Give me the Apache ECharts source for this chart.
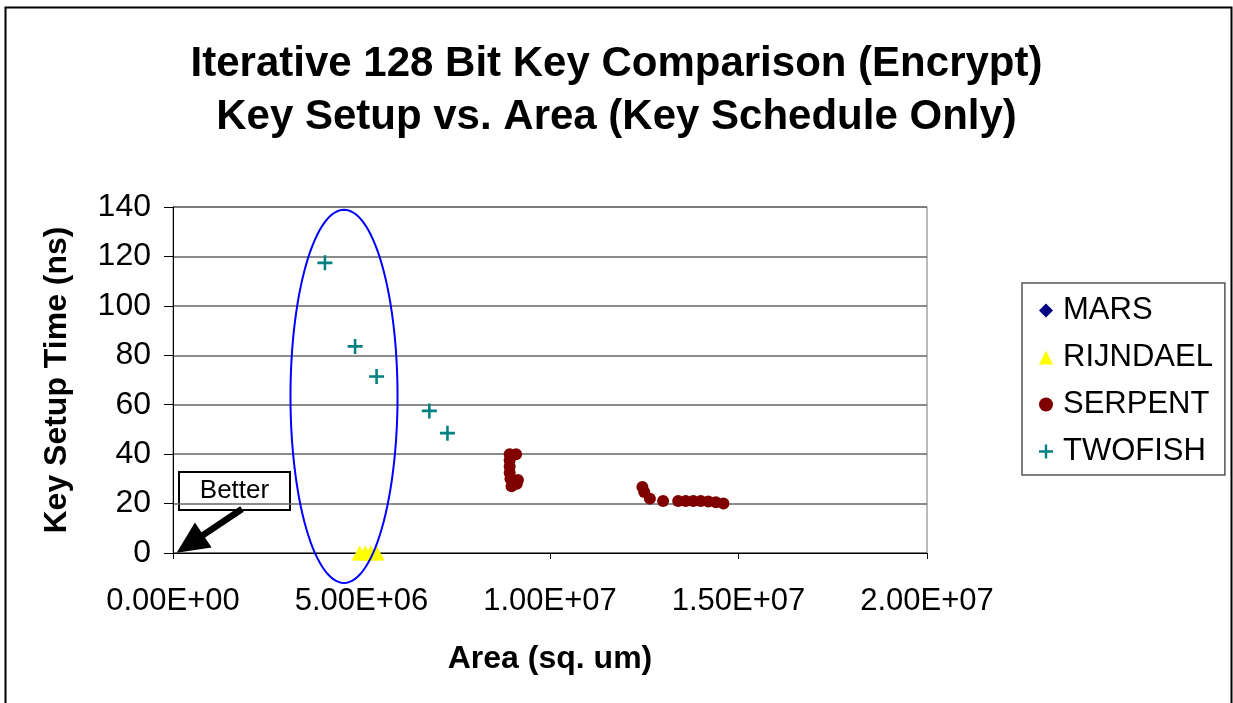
<!DOCTYPE html>
<html>
<head>
<meta charset="utf-8">
<script src="https://cdn.jsdelivr.net/npm/echarts@6/dist/echarts.min.js"></script>
<style>
  html, body { margin: 0; padding: 0; background: #fff; }
  #chart { width: 1233px; height: 703px; }
</style>
</head>
<body>
<div id="chart"></div>
<script>
// Axis ticks
const xTicks = [0, 5e6, 1e7, 1.5e7, 2e7];
const yTicks = [0, 20, 40, 60, 80, 100, 120, 140];

// Series: [area (sq. um), key setup time (ns)]
const marsData = [];
const rijndaelData = [[4.95e6, 0], [5.1e6, 0], [5.25e6, 0], [5.4e6, 0]];
const serpentData = [
  [8.93e6, 40], [9.1e6, 40], [8.93e6, 37.5], [8.93e6, 35], [8.93e6, 32.5],
  [8.95e6, 30], [9.15e6, 29.5], [9.12e6, 28], [8.98e6, 27],
  [1.245e7, 26.7], [1.25e7, 24.7], [1.265e7, 22], [1.3e7, 21],
  [1.34e7, 21], [1.36e7, 21], [1.38e7, 21], [1.4e7, 21],
  [1.42e7, 20.8], [1.44e7, 20.5], [1.46e7, 20]
];
const twofishData = [
  [4.03e6, 117.4], [4.83e6, 83.6], [5.4e6, 71.4], [6.8e6, 57.5], [7.28e6, 48.5]
];

// Highlight ellipse: [centerX, centerY, radiusX, radiusY] in data units
const ellipseData = [[4.536e6, 63.4, 1.42e6, 75.5]];
// "Better" arrow: from the note box towards the origin
const arrowFrom = [1.83e6, 17.8];
const arrowTo = [0.45e6, 3.7];

const FONT = '"Liberation Sans", Arial, sans-serif';
const PLUS = 'path://M5.8,0H8.2V5.8H14V8.2H8.2V14H5.8V8.2H0V5.8H5.8Z';

function sciLabel(v) {
  const parts = Number(v).toExponential(2).split('e');
  const sign = parts[1][0];
  const digits = parts[1].slice(1).padStart(2, '0');
  return parts[0] + 'E' + sign + digits;
}

const chart = echarts.init(document.getElementById('chart'), null, { renderer: 'canvas' });

chart.setOption({
  backgroundColor: '#fff',
  animation: false,
  textStyle: { fontFamily: FONT },
  title: {
    text: 'Iterative 128 Bit Key Comparison (Encrypt)\nKey Setup vs. Area (Key Schedule Only)',
    left: 'center',
    top: 33,
    textStyle: { fontFamily: FONT, fontSize: 42, fontWeight: 'bold', color: '#000', lineHeight: 53 }
  },
  legend: {
    orient: 'vertical',
    left: 1022,
    top: 283,
    padding: [12, 12, 8, 17],
    itemGap: 16,
    itemWidth: 14,
    itemHeight: 14,
    borderColor: '#555',
    borderWidth: 1.5,
    backgroundColor: '#fff',
    data: ['MARS', 'RIJNDAEL', 'SERPENT', 'TWOFISH'],
    textStyle: { fontFamily: FONT, fontSize: 31, color: '#000', padding: [0, 0, 0, 5] }
  },
  grid: {
    left: 173, right: 306, top: 207, bottom: 150,
    show: true, borderColor: '#777', borderWidth: 1, backgroundColor: '#fff'
  },
  xAxis: {
    type: 'value',
    min: xTicks[0], max: xTicks[xTicks.length - 1], interval: xTicks[1] - xTicks[0],
    name: 'Area (sq. um)',
    nameLocation: 'middle',
    nameGap: 90,
    nameTextStyle: { fontFamily: FONT, fontSize: 32, fontWeight: 'bold', color: '#000' },
    axisLine: { show: true, onZero: false, lineStyle: { color: '#000', width: 1 } },
    axisTick: { show: true, length: 6, lineStyle: { color: '#000' } },
    axisLabel: { fontFamily: FONT, fontSize: 31, color: '#000', margin: 33, formatter: sciLabel },
    splitLine: { show: false }
  },
  yAxis: {
    type: 'value',
    min: yTicks[0], max: yTicks[yTicks.length - 1], interval: yTicks[1] - yTicks[0],
    name: 'Key Setup Time (ns)',
    nameLocation: 'middle',
    nameGap: 100,
    nameTextStyle: { fontFamily: FONT, fontSize: 32, fontWeight: 'bold', color: '#000' },
    axisLine: { show: true, lineStyle: { color: '#000', width: 1 } },
    axisTick: { show: true, length: 9, lineStyle: { color: '#000' } },
    axisLabel: { fontFamily: FONT, fontSize: 32, color: '#000', margin: 22 },
    splitLine: { show: true, lineStyle: { color: '#666', width: 1.5 } }
  },
  series: [
    {
      name: 'MARS', type: 'scatter', data: marsData,
      symbol: 'diamond', symbolSize: 13, itemStyle: { color: '#000080', opacity: 1 }
    },
    {
      name: 'RIJNDAEL', type: 'scatter', data: rijndaelData, clip: false,
      symbol: 'triangle', symbolSize: [16, 15], itemStyle: { color: '#FFFF00', opacity: 1 }
    },
    {
      name: 'SERPENT', type: 'scatter', data: serpentData, clip: false,
      symbol: 'circle', symbolSize: 12, itemStyle: { color: '#800000', opacity: 1 }
    },
    {
      name: 'TWOFISH', type: 'scatter', data: twofishData, clip: false,
      symbol: PLUS, symbolSize: 15, itemStyle: { color: '#008080', opacity: 1 }
    },
    {
      // ellipse outline around the compact designs, plus the "Better" arrow
      name: 'note', type: 'custom', clip: false, silent: true, z: 5,
      data: ellipseData,
      encode: { x: 0, y: 1 },
      renderItem: function (params, api) {
        const c = api.coord([api.value(0), api.value(1)]);
        const s = api.size([api.value(2), api.value(3)]);
        const pts = [];
        for (let i = 0; i < 120; i++) {
          const a = (i / 120) * Math.PI * 2;
          pts.push([c[0] + s[0] * Math.cos(a), c[1] + s[1] * Math.sin(a)]);
        }
        return {
          type: 'polygon',
          shape: { points: pts },
          style: { fill: null, stroke: '#0000FF', lineWidth: 2 }
        };
      },
      markLine: {
        silent: true,
        symbol: ['none', 'triangle'],
        symbolSize: [30, 32],
        label: { show: false },
        lineStyle: { color: '#000', width: 6.5, type: 'solid', opacity: 1 },
        data: [[{ coord: arrowFrom }, { coord: arrowTo }]]
      }
    }
  ],
  graphic: [
    {
      type: 'rect', left: 3, top: 5, silent: true, z: -10,
      shape: { width: 1226, height: 710 },
      style: { fill: null, stroke: '#000', lineWidth: 2 }
    },
    {
      type: 'group', left: 178, top: 471, z: 10,
      children: [
        {
          type: 'rect', shape: { x: 0, y: 0, width: 111, height: 38 },
          style: { fill: '#fff', stroke: '#000', lineWidth: 2 }
        },
        {
          type: 'text', x: 55.5, y: 19,
          style: { text: 'Better', fontFamily: FONT, fontSize: 26, fill: '#000', align: 'center', verticalAlign: 'middle' }
        }
      ]
    }
  ]
});
</script>
</body>
</html>
